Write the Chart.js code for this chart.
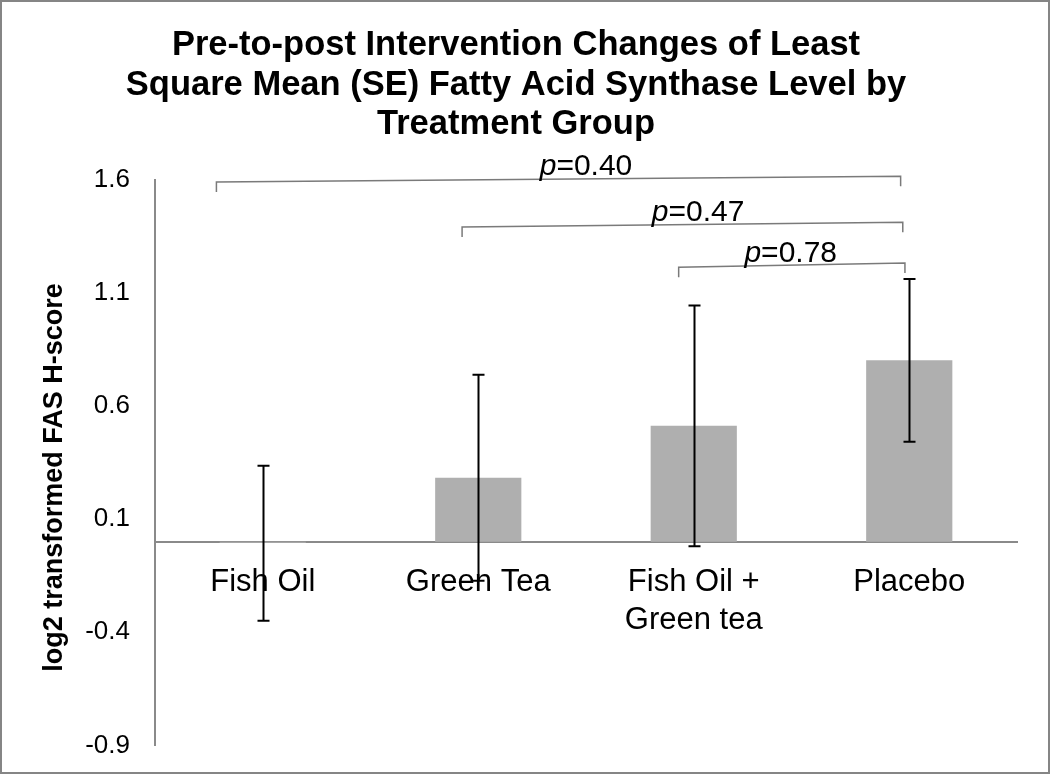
<!DOCTYPE html>
<html>
<head>
<meta charset="utf-8">
<script src="https://cdn.jsdelivr.net/npm/chart.js@4.4.0/dist/chart.umd.min.js"></script>
<style>
    body { margin: 0; background: #fff; }
    #wrap { position: relative; width: 1050px; height: 778px; }
    #frame { position: absolute; left: 0; top: 0; width: 1046px; height: 770px; border: 2px solid #858585; pointer-events: none; }
</style>
</head>
<body>
<div id="wrap">
    <canvas id="fasChart" width="1050" height="778"></canvas>
    <div id="frame"></div>
</div>
<script>
const categories = [['Fish Oil'], ['Green Tea'], ['Fish Oil +', 'Green tea'], ['Placebo']];
const lsMeans = [-0.005, 0.282, 0.512, 0.802];
const seLow = [-0.349, -0.173, -0.02, 0.442];
const seHigh = [0.335, 0.737, 1.043, 1.161];
const yTicks = [-0.9, -0.4, 0.1, 0.6, 1.1, 1.6];
const yTitle = 'log2 transformed FAS H-score';

// comparison brackets (x in category units, y in data units)
const pLabels = ['0.40', '0.47', '0.78'];
const bracketFrom = [-0.215, 0.925, 1.93];
const bracketTo = [2.96, 2.97, 2.98];
const bracketLeftY = [1.589, 1.390, 1.2125];
const bracketRightY = [1.614, 1.411, 1.231];
const pLabelX = [1.5, 2.02, 2.45];
const pLabelY = [1.62, 1.415, 1.235];

const FONT = '"Liberation Sans", Arial, sans-serif';

function catToPx(xScale, v) {
    const p0 = xScale.getPixelForValue(0);
    const p1 = xScale.getPixelForValue(1);
    return p0 + (p1 - p0) * v;
}

const annotations = {
    id: 'annotations',
    afterDatasetsDraw(chart) {
        const ctx = chart.ctx;
        const x = chart.scales.x;
        const y = chart.scales.y;
        const area = chart.chartArea;
        ctx.save();

        // error bars
        ctx.strokeStyle = '#000';
        ctx.lineWidth = 2;
        const cap = 6;
        lsMeans.forEach((m, i) => {
            const cx = Math.round(x.getPixelForValue(i)) + 0.5;
            const yt = y.getPixelForValue(seHigh[i]);
            const yb = y.getPixelForValue(seLow[i]);
            ctx.beginPath();
            ctx.moveTo(cx, yt); ctx.lineTo(cx, yb);
            ctx.moveTo(cx - cap, yt); ctx.lineTo(cx + cap, yt);
            ctx.moveTo(cx - cap, yb); ctx.lineTo(cx + cap, yb);
            ctx.stroke();
        });

        // brackets
        ctx.strokeStyle = '#7a7a7a';
        ctx.lineWidth = 1.5;
        const tick = 10;
        pLabels.forEach((lab, i) => {
            const xl = catToPx(x, bracketFrom[i]);
            const xr = catToPx(x, bracketTo[i]);
            const yl = y.getPixelForValue(bracketLeftY[i]);
            const yr = y.getPixelForValue(bracketRightY[i]);
            ctx.beginPath();
            ctx.moveTo(xl, yl + tick); ctx.lineTo(xl, yl);
            ctx.lineTo(xr, yr); ctx.lineTo(xr, yr + tick);
            ctx.stroke();

            // p label: italic p + "=value"
            const italic = 'italic 30px ' + FONT;
            const normal = '30px ' + FONT;
            ctx.font = italic;
            const w1 = ctx.measureText('p').width;
            ctx.font = normal;
            const rest = '=' + lab;
            const w2 = ctx.measureText(rest).width;
            const cx = catToPx(x, pLabelX[i]);
            const by = y.getPixelForValue(pLabelY[i]);
            const sx = cx - (w1 + w2) / 2;
            ctx.fillStyle = '#000';
            ctx.textBaseline = 'alphabetic';
            ctx.textAlign = 'left';
            ctx.font = italic;
            ctx.fillText('p', sx, by);
            ctx.font = normal;
            ctx.fillText(rest, sx + w1, by);
        });

        // y axis title, sits a little below the axis middle like the original
        ctx.translate(55, (area.top + area.bottom) / 2 + 15);
        ctx.rotate(-Math.PI / 2);
        ctx.font = 'bold 27px ' + FONT;
        ctx.textAlign = 'center';
        ctx.textBaseline = 'middle';
        ctx.fillStyle = '#000';
        ctx.fillText(yTitle, 0, 0);
        ctx.restore();
    }
};

new Chart(document.getElementById('fasChart'), {
    type: 'bar',
    data: {
        labels: categories,
        datasets: [{
            label: 'LS mean change',
            data: lsMeans,
            backgroundColor: '#afafaf',
            borderWidth: 0,
            barPercentage: 0.4,
            categoryPercentage: 1
        }]
    },
    options: {
        responsive: false,
        animation: false,
        layout: { padding: { left: 15, right: 33, top: 0, bottom: 26 } },
        plugins: {
            legend: { display: false },
            tooltip: { enabled: false },
            title: {
                display: true,
                text: ['Pre-to-post Intervention Changes of Least',
                       'Square Mean (SE) Fatty Acid Synthase Level by',
                       'Treatment Group'],
                color: '#000',
                font: { family: FONT, size: 34.5, weight: 'bold', lineHeight: 1.145 },
                padding: { top: 26, bottom: 35 }
            }
        },
        scales: {
            x: {
                position: { y: 0 },
                grid: { display: false },
                border: { display: true, color: '#8a8a8a', width: 2 },
                ticks: {
                    color: '#000',
                    font: { family: FONT, size: 31, lineHeight: 1.25 },
                    padding: 13,
                    maxRotation: 0
                }
            },
            y: {
                min: -0.9,
                max: 1.6,
                afterFit(scale) { scale.width = 140; },
                afterBuildTicks(scale) { scale.ticks = yTicks.map(v => ({ value: v })); },
                grid: { display: false },
                border: { display: true, color: '#8a8a8a', width: 2 },
                ticks: {
                    color: '#000',
                    font: { family: FONT, size: 26 },
                    padding: 17,
                    callback: v => v.toFixed(1)
                }
            }
        }
    },
    plugins: [annotations]
});
</script>
</body>
</html>
